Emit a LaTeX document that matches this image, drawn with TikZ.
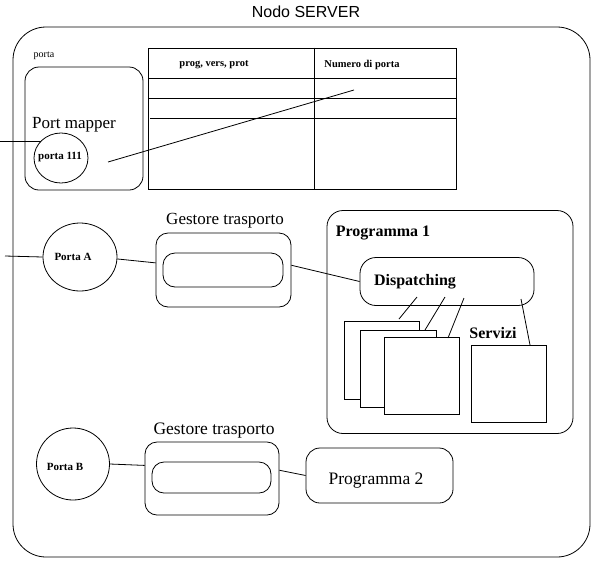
\documentclass[tikz,border=0pt]{standalone}
\usepackage{fontspec}
\setmainfont{Liberation Serif}
\newfontfamily\arialf{Liberation Sans}
\usetikzlibrary{shapes.geometric,calc}
\tikzset{
  ln/.style={line width=0.8pt},
  rbox/.style={draw, line width=0.8pt, rounded corners=#1, inner sep=0pt},
  sqbox/.style={draw, line width=0.8pt, fill=white, inner sep=0pt},
  ell/.style={ellipse, draw, line width=0.8pt, inner sep=0pt},
  bigtxt/.style={font=\fontsize{17}{19}\selectfont, inner sep=0pt},
  boldtxt/.style={font=\bfseries\fontsize{16}{18}\selectfont, inner sep=0pt},
  smallbold/.style={font=\bfseries\fontsize{11}{12}\selectfont, inner sep=0pt},
  tinytxt/.style={font=\fontsize{10}{12}\selectfont, inner sep=0pt}
}
\begin{document}
\begin{tikzpicture}[x=1pt,y=-1pt]
\useasboundingbox (0,0) rectangle (593,560);
\coordinate (leftx) at (0,0);

% title and outer box
\node[font=\arialf\fontsize{16}{18}\selectfont, inner sep=0pt] (title) at (306,12) {Nodo SERVER};
\node[rbox=33, minimum width=577, minimum height=530] (outer) at (301.5,292) {};

% port mapper
\node[tinytxt] (portalbl) at (44,56) {porta};
\node[rbox=14, minimum width=118, minimum height=123] (pm) at (84,128.5) {};
\node[bigtxt] (pmlbl) at (74,125) {Port mapper};
\node[ell, minimum width=54, minimum height=50] (c111) at (61,158) {};
\node[smallbold] (c111lbl) at (60,157) {porta 111};
\draw[ln] (c111.140 -| leftx) -- (c111.140);

% table
\node[draw, ln, minimum width=308, minimum height=141, inner sep=0pt] (tbl) at (302,118.5) {};
\coordinate (tdiv) at (314,48);
\draw[ln] (tbl.north -| tdiv) -- (tbl.south -| tdiv);
\coordinate (h1) at (148,78);
\coordinate (h2) at (148,98);
\coordinate (h3) at (150,118);
\draw[ln] (h1) -- (h1 -| tbl.east);
\draw[ln] (h2) -- (h2 -| tbl.east);
\draw[ln] (h3) -- (h3 -| tbl.east);
\node[font=\bfseries\fontsize{10.5}{12}\selectfont, inner sep=0pt] (hdr1) at (214,65) {prog, vers, prot};
\node[font=\bfseries\fontsize{10.5}{12}\selectfont, inner sep=0pt] (hdr2) at (362,65) {Numero di porta};
\coordinate (lk1) at (108,162);
\coordinate (lk2) at (354,90);
\draw[ln] (lk1) -- (lk2);

% Porta A and Gestore trasporto 1
\node[ell, minimum width=74, minimum height=68] (pa) at (80,257) {};
\node[smallbold] (palbl) at (73,257) {Porta A};
\coordinate (ina) at (5,256);
\draw[ln] (ina) -- (pa.west);
\node[rbox=12, minimum width=135, minimum height=74] (g1) at (223.5,270) {};
\node[rbox=12, minimum width=120, minimum height=34] (g1in) at (223,270) {};
\node[bigtxt] (g1lbl) at (225,221) {Gestore trasporto};
\draw[ln] (pa.-3) -- (g1.174);

% Programma 1
\node[rbox=16, minimum width=246, minimum height=223] (p1) at (450,322) {};
\node[font=\bfseries\fontsize{16}{18}\selectfont, inner sep=0pt] (p1lbl) at (383,233) {Programma 1};
\node[rbox=16, minimum width=174, minimum height=48] (disp) at (447,281.5) {};
\node[boldtxt] (displbl) at (415,282) {Dispatching};
\draw[ln] (g1.4) -- (disp.west);
\node[sqbox, minimum width=75, minimum height=78] (sq1) at (381.5,360) {};
\node[sqbox, minimum width=76, minimum height=77] (sq2) at (398,368.5) {};
\node[sqbox, minimum width=75, minimum height=77] (sq3) at (421.5,375.5) {};
\node[sqbox, minimum width=75, minimum height=77] (serv) at (508.5,383.5) {};
\node[boldtxt] (servlbl) at (493,333) {Servizi};
\coordinate (s1a) at (399,319); \coordinate (s1b) at (417,297);
\coordinate (s2a) at (425,330); \coordinate (s2b) at (445,297);
\coordinate (s3a) at (448,338); \coordinate (s3b) at (464,298);
\coordinate (s4a) at (530,345); \coordinate (s4b) at (521,299);
\draw[ln] (s1a) -- (s1b);
\draw[ln] (s2a) -- (s2b);
\draw[ln] (s3a) -- (s3b);
\draw[ln] (s4a) -- (s4b);

% Porta B, Gestore trasporto 2, Programma 2
\node[ell, minimum width=73, minimum height=72] (pb) at (73,464) {};
\node[smallbold] (pblbl) at (65,467) {Porta B};
\node[rbox=12, minimum width=134, minimum height=73] (g2) at (212,478.5) {};
\node[rbox=12, minimum width=119, minimum height=31] (g2in) at (211.5,477.5) {};
\node[font=\fontsize{17.5}{19}\selectfont, inner sep=0pt] (g2lbl) at (214,431) {Gestore trasporto};
\node[rbox=14, minimum width=147, minimum height=55] (p2) at (379.5,475.5) {};
\node[font=\fontsize{17.5}{19}\selectfont, inner sep=0pt] (p2lbl) at (376,481) {Programma 2};
\draw[ln] (pb.east) -- (g2.169);
\draw[ln] (g2.7) -- (p2.west);
\end{tikzpicture}
\end{document}
